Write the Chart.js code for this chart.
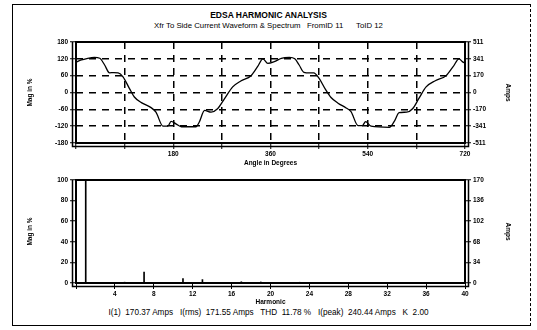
<!DOCTYPE html>
<html>
<head>
<meta charset="utf-8">
<script src="https://cdn.jsdelivr.net/npm/chart.js@4.4.0/dist/chart.umd.min.js"></script>
<style>
body { margin:0; background:#fff; }
#page { position:relative; width:537px; height:330px; overflow:hidden; background:#fff; font-family:'Liberation Sans', Arial, sans-serif; color:#000; }
#frame { position:absolute; left:12px; top:4px; width:517px; height:320px; border:1px solid #000; border-right-style:dashed; }
.txt { position:absolute; left:0; width:537px; text-align:center; white-space:pre; color:#000; }
#title { top:10px; font-size:8.5px; font-weight:bold; line-height:10px; }
#sub { top:20.5px; font-size:7.8px; line-height:9px; }
#foot { top:308px; font-size:8.2px; line-height:10px; }
canvas { position:absolute; left:0; }
#wave { top:0; }
#spec { top:170px; }
</style>
</head>
<body>
<div id="page">
  <div id="frame"></div>
  <div class="txt" id="title">EDSA HARMONIC ANALYSIS</div>
  <div class="txt" id="sub">Xfr To Side Current Waveform &amp; Spectrum   FromID 11      ToID 12</div>
  <canvas id="wave" width="537" height="170"></canvas>
  <canvas id="spec" width="537" height="137"></canvas>
  <div class="txt" id="foot">I(1)  170.37 Amps   I(rms)  171.55 Amps   THD  11.78 %   I(peak)  240.44 Amps   K  2.00</div>
</div>
<script>
'use strict';

// waveform
let angleDeg = [0,10,20,34,44,53,62,70,78,87,99,108,121,139,148,161,170,176,185,195,222,228,238,250,262,275,290,305,324,336,346,355,
  367,380,395,405,413,422,432,440,450,462,472,485,500,509,522,530,536,546,580,590,598,612,623,635,648,665,685,698,709,715,720];
let magPct = [108,116,121,125,122,98,70,71,70,56,14,-16,-36,-54,-70,-120,-120,-103,-112,-122,-122,-106,-64,-70,-58,-22,20,41,60,92,120,104,
  110,122,125,120,98,72,70,70,50,10,-18,-38,-55,-68,-118,-118,-104,-120,-124,-100,-72,-70,-58,-20,20,42,60,92,120,110,104];

// spectrum
let harmonicNo = [1,5,7,11,13,17,19,23,25];
let harmonicPct = [100,0.8,10.5,4.2,3.3,1.2,1.0,0.6,0.5];

// tick labels
let magTicks = [-180,-120,-60,0,60,120,180];
let ampTicks = ['-511','-341','-170','0','170','341','511'];
let specPctTicks = [0,20,40,60,80,100];
let specAmpTicks = ['0','34','68','102','136','170'];

Chart.defaults.font.family = "'Liberation Sans', Arial, sans-serif";
Chart.defaults.color = '#000';

let tickFont = { size: 6.5, weight: 'bold' };
let titleFont = { size: 6.5, weight: 'bold' };

let framePlugin = {
  id: 'frame',
  afterDraw(chart) {
    let a = chart.chartArea;
    let c = chart.ctx;
    c.save();
    c.strokeStyle = '#000';
    c.lineWidth = 2;
    c.strokeRect(a.left, a.top, a.right - a.left, a.bottom - a.top);
    c.lineWidth = 1.5;
    c.beginPath();
    c.moveTo(a.left - 3.5, a.top);
    c.lineTo(a.left - 3.5, a.bottom + 3.5);
    c.lineTo(a.right + 3.5, a.bottom + 3.5);
    c.lineTo(a.right + 3.5, a.top);
    c.stroke();
    c.restore();
  }
};

function sideAxis(pos, width, title, pad, min, max, step, labelFn, gridOn) {
  return {
    type: 'linear', position: pos, min: min, max: max,
    afterFit: function(s) { s.width = width; },
    title: { display: true, text: title, font: titleFont, padding: { top: pad, bottom: 0 } },
    ticks: { stepSize: step, font: tickFont, padding: 2, callback: labelFn },
    grid: { drawOnChartArea: gridOn, color: '#000', lineWidth: 1.5, tickLength: 6, tickBorderDash: [], tickWidth: 1 },
    border: { display: false, dash: [7, 6] }
  };
}

let wavePoints = angleDeg.map((a, i) => ({ x: a, y: magPct[i] }));

new Chart(document.getElementById('wave'), {
  type: 'line',
  data: {
    datasets: [{
      data: wavePoints,
      borderColor: '#000',
      borderWidth: 1.3,
      pointRadius: 0,
      cubicInterpolationMode: 'monotone',
      fill: false
    }]
  },
  options: {
    responsive: false,
    animation: false,
    devicePixelRatio: 1,
    layout: { padding: { top: 42, left: 0, right: 0, bottom: 0 } },
    plugins: { legend: { display: false }, tooltip: { enabled: false } },
    scales: {
      x: {
        type: 'linear', min: 0, max: 720,
        afterFit: function(s) { s.height = 27; },
        title: { display: true, text: 'Angle in Degrees', font: titleFont, padding: { top: 0, bottom: 3 } },
        ticks: { stepSize: 90, autoSkip: false, maxRotation: 0, font: tickFont, padding: 1,
          callback: v => (v > 0 && v % 180 === 0) ? v : '' },
        grid: { color: '#000', lineWidth: 1.5, tickLength: 6, tickBorderDash: [], tickWidth: 1 },
        border: { display: false, dash: [7, 6] }
      },
      y: sideAxis('left', 76, 'Mag in %', 26, -180, 180, 60, v => v, true),
      y1: sideAxis('right', 72, 'Amps', 25, -180, 180, 60, v => ampTicks[magTicks.indexOf(v)], false)
    }
  },
  plugins: [framePlugin]
});

let specPoints = harmonicNo.map((h, i) => ({ x: h, y: harmonicPct[i] }));

new Chart(document.getElementById('spec'), {
  type: 'bar',
  data: {
    datasets: [{
      data: specPoints,
      backgroundColor: '#000',
      barThickness: 1
    }]
  },
  options: {
    responsive: false,
    animation: false,
    devicePixelRatio: 1,
    layout: { padding: { top: 10, left: 0, right: 0, bottom: 0 } },
    plugins: { legend: { display: false }, tooltip: { enabled: false } },
    scales: {
      x: {
        type: 'linear', min: 0, max: 40, offset: false,
        afterFit: function(s) { s.height = 24; },
        title: { display: true, text: 'Harmonic', font: titleFont, padding: { top: 0, bottom: 1 } },
        ticks: { stepSize: 4, autoSkip: false, maxRotation: 0, font: tickFont, padding: 1,
          callback: v => v === 0 ? '' : v },
        grid: { offset: false, drawOnChartArea: false, color: '#000', lineWidth: 1, tickLength: 6 },
        border: { display: false }
      },
      y: sideAxis('left', 76, 'Mag in %', 26, 0, 100, 20, v => v, false),
      y1: sideAxis('right', 72, 'Amps', 25, 0, 100, 20, v => specAmpTicks[specPctTicks.indexOf(v)], false)
    }
  },
  plugins: [framePlugin]
});
</script>
</body>
</html>
